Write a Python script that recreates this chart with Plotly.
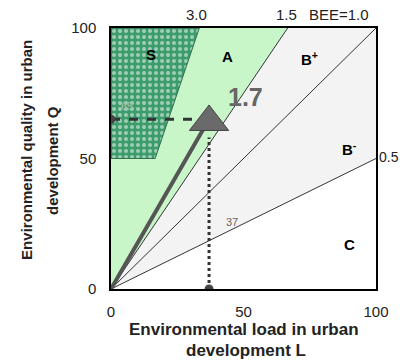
import plotly.graph_objects as go

# BEE boundary slopes and labels
bee_slopes = [3.0, 1.5, 1.0, 0.5]
bee_labels = ["3.0", "1.5", "BEE=1.0", "0.5"]
s_min_q = 50

# evaluated building
point_L = 37
point_Q = 65
point_bee = "1.7"

# rank labels
rank_names = ["S", "A", "B<sup>+</sup>", "B<sup>-</sup>", "C"]
rank_L = [15, 44, 75, 90, 90]
rank_Q = [90, 89, 88.5, 54, 17]

axis_ticks = [0, 50, 100]

fig = go.Figure()

# light green area (A and up): above BEE=1.5
top_15 = 100 / bee_slopes[1]
fig.add_trace(go.Scatter(x=[0, top_15, 0, 0], y=[0, 100, 100, 0], fill="toself",
                         fillcolor="#c9f6c9", line=dict(width=0), mode="lines",
                         hoverinfo="skip"))
# gray area (B+ / B-): between BEE=1.5 and BEE=0.5
fig.add_trace(go.Scatter(x=[0, 100, 100, top_15, 0], y=[0, 100 * bee_slopes[3], 100, 100, 0],
                         fill="toself", fillcolor="#f3f3f3", line=dict(width=0),
                         mode="lines", hoverinfo="skip"))
# S area: Q >= 50 and BEE >= 3.0
fig.add_trace(go.Scatter(x=[0, s_min_q / bee_slopes[0], 100 / bee_slopes[0], 0, 0],
                         y=[s_min_q, s_min_q, 100, 100, s_min_q],
                         fill="toself", fillcolor="#3d9c6b",
                         fillpattern=dict(shape=".", fgcolor="white", bgcolor="#3d9c6b",
                                          size=6, solidity=0.35),
                         line=dict(width=1, color="#2f6f4f"), mode="lines",
                         hoverinfo="skip"))

# BEE lines from origin
for s in bee_slopes[1:]:
    xe = min(100, 100 / s)
    fig.add_trace(go.Scatter(x=[0, xe], y=[0, xe * s], mode="lines",
                             line=dict(color="#333333", width=1), hoverinfo="skip"))

# dashed guide lines
fig.add_trace(go.Scatter(x=[0, point_L], y=[point_Q, point_Q], mode="lines",
                         line=dict(color="#333333", width=3, dash="dash")))
fig.add_trace(go.Scatter(x=[point_L, point_L], y=[0, point_Q - 7], mode="lines",
                         line=dict(color="#333333", width=3, dash="dot")))
fig.add_trace(go.Scatter(x=[0, point_L], y=[point_Q, 0], mode="markers",
                         marker=dict(color="#444444", size=9)))

# arrow to the building point
fig.add_trace(go.Scatter(x=[0, point_L], y=[0, point_Q], mode="lines",
                         line=dict(color="#555555", width=4)))
fig.add_trace(go.Scatter(x=[point_L], y=[point_Q - 1], mode="markers",
                         marker=dict(symbol="triangle-up", size=34, color="#6a6a6a",
                                     line=dict(color="#444444", width=1))))

ann = []
for name, lx, ly in zip(rank_names, rank_L, rank_Q):
    ann.append(dict(x=lx, y=ly, text="<b>" + name + "</b>", showarrow=False,
                    font=dict(size=15, color="black"), xref="x", yref="y"))

# BEE labels on the top edge
top_pos = [100 / bee_slopes[0] - 1, top_15 - 0.5, 86]
for lbl, xp in zip(bee_labels[:3], top_pos):
    ann.append(dict(x=xp, y=1.05, text=lbl, showarrow=False, xref="x", yref="paper",
                    yanchor="middle", font=dict(size=15, color="#222222")))
ann.append(dict(x=1.049, y=0.506, text=bee_labels[3], showarrow=False,
                xref="paper", yref="paper", xanchor="center", yanchor="middle",
                font=dict(size=14, color="#222222")))

ann.append(dict(x=50.6, y=73.6, text="<b>" + point_bee + "</b>", showarrow=False,
                font=dict(size=25, color="#666666")))
ann.append(dict(x=6, y=70, text=str(point_Q), showarrow=False,
                font=dict(size=11, color="#a4c4b0")))
ann.append(dict(x=45.7, y=25.5, text=str(point_L), showarrow=False,
                font=dict(size=11, color="#666666")))

# axis titles, one annotation per line
ann.append(dict(x=0.502, y=-0.157, xref="paper", yref="paper", showarrow=False,
                xanchor="center", yanchor="middle",
                text="<b>Environmental load in urban</b>",
                font=dict(size=17, color="#222222")))
ann.append(dict(x=0.509, y=-0.234, xref="paper", yref="paper", showarrow=False,
                xanchor="center", yanchor="middle",
                text="<b>development L</b>",
                font=dict(size=17, color="#222222")))
ann.append(dict(x=-0.317, y=0.533, xref="paper", yref="paper", showarrow=False,
                xanchor="center", yanchor="middle", textangle=-90,
                text="<b>Environmental quality in urban</b>",
                font=dict(size=15, color="#222222")))
ann.append(dict(x=-0.223, y=0.494, xref="paper", yref="paper", showarrow=False,
                xanchor="center", yanchor="middle", textangle=-90,
                text="<b>development Q</b>",
                font=dict(size=15, color="#222222")))

fig.update_layout(
    width=400, height=363,
    margin=dict(l=111, r=24, t=28, b=74),
    paper_bgcolor="white", plot_bgcolor="white",
    showlegend=False,
    font=dict(family="Liberation Sans, Arial", size=13, color="#222222"),
    annotations=ann,
)
fig.update_xaxes(range=[0, 100], tickvals=axis_ticks, showgrid=False, zeroline=False,
                 showline=True, linecolor="black", linewidth=2, mirror=True,
                 ticklabelstandoff=8, tickfont=dict(size=15))
fig.update_yaxes(range=[0, 100], tickvals=axis_ticks, showgrid=False, zeroline=False,
                 showline=True, linecolor="black", linewidth=1.5, mirror=True,
                 ticklabelstandoff=10, tickfont=dict(size=15))

# drop the default page margin so the figure sits at the window corner
fig.write_html("out.html", config={"displayModeBar": False},
               post_script="document.body.style.margin='0';")
